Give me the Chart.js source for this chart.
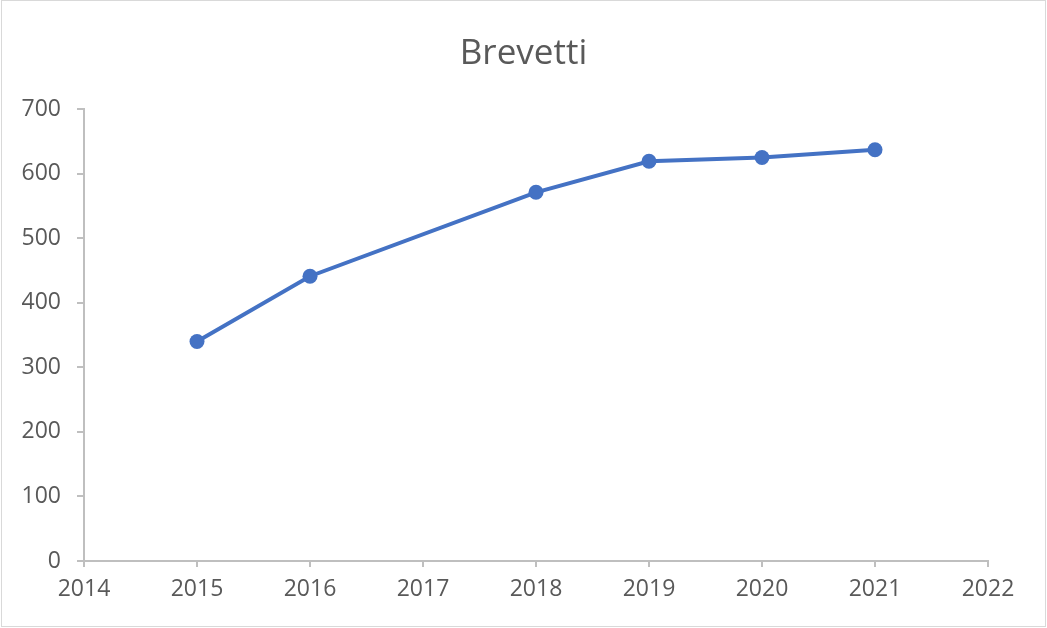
<!DOCTYPE html>
<html>
<head>
<meta charset="utf-8">
<script src="https://cdn.jsdelivr.net/npm/chart.js@4/dist/chart.umd.min.js"></script>
<style>
    html, body { margin: 0; padding: 0; background: #fff; }
    #wrap { position: relative; width: 1047px; height: 628px; }
    #frame { position: absolute; left: 1px; top: 0px; width: 1043px; height: 625px; border: 1px solid #d9d9d9; pointer-events: none; }
</style>
</head>
<body>
<div id="wrap">
    <canvas id="brevettiChart" width="1047" height="628"></canvas>
    <div id="frame"></div>
</div>
<script>
    // Data
    const years = [2015, 2016, 2018, 2019, 2020, 2021];
    const brevetti = [340, 441, 571, 619, 625, 637];
    const xMin = 2014, xMax = 2022;
    const yMin = 0, yMax = 700, yStep = 100;

    const textGrey = '#595959';
    const axisGrey = '#bfbfbf';
    const blue = '#4472c4';
    const fontFamily = "'Segoe UI', 'Open Sans', sans-serif";

    const ctx = document.getElementById('brevettiChart').getContext('2d');
    const chart = new Chart(ctx, {
        type: 'scatter',
        data: {
            datasets: [{
                label: 'Brevetti',
                data: years.map((y, i) => ({ x: y, y: brevetti[i] })),
                showLine: true,
                borderColor: blue,
                backgroundColor: blue,
                borderWidth: 4,
                pointRadius: 7.5,
                pointHoverRadius: 7.5,
                pointBorderWidth: 0,
                tension: 0
            }]
        },
        options: {
            responsive: false,
            animation: false,
            layout: { padding: 0 },
            plugins: {
                legend: { display: false },
                tooltip: { enabled: false },
                title: {
                    display: true,
                    text: 'Brevetti',
                    color: textGrey,
                    font: { family: fontFamily, size: 35, weight: 'normal' },
                    padding: { top: 33, bottom: 34 }
                }
            },
            scales: {
                x: {
                    type: 'linear',
                    min: xMin,
                    max: xMax,
                    afterFit: function(scale) { scale.height = 67; },
                    ticks: {
                        stepSize: 1,
                        color: textGrey,
                        font: { family: fontFamily, size: 23 },
                        padding: 9,
                        maxRotation: 0,
                        callback: function(v) { return String(v); }
                    },
                    grid: { drawOnChartArea: false, drawTicks: true, tickLength: 6, color: axisGrey, lineWidth: 2 },
                    border: { color: axisGrey, width: 2 }
                },
                y: {
                    min: yMin,
                    max: yMax,
                    afterFit: function(scale) { scale.width = 84; },
                    ticks: {
                        stepSize: yStep,
                        color: textGrey,
                        font: { family: fontFamily, size: 23 },
                        padding: 16
                    },
                    grid: { drawOnChartArea: false, drawTicks: true, tickLength: 7, color: axisGrey, lineWidth: 2 },
                    border: { color: axisGrey, width: 2 }
                },
                // empty right-hand spacer so the title stays centred on the whole canvas
                spacer: {
                    position: 'right',
                    afterFit: function(scale) { scale.width = 59; },
                    ticks: { display: false },
                    grid: { display: false },
                    border: { display: false }
                }
            }
        }
    });
</script>
</body>
</html>
